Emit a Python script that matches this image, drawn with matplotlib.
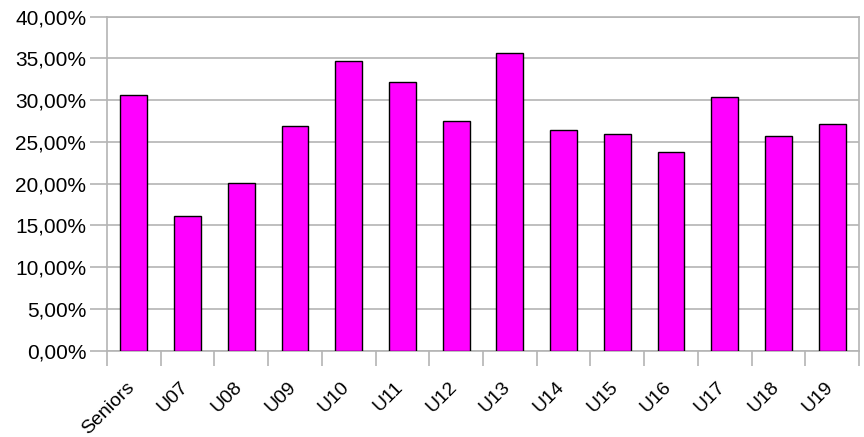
import matplotlib.pyplot as plt
import matplotlib.transforms as mtransforms
from matplotlib.ticker import FuncFormatter, MultipleLocator

categories = ['Seniors', 'U07', 'U08', 'U09', 'U10', 'U11', 'U12',
              'U13', 'U14', 'U15', 'U16', 'U17', 'U18', 'U19']
values = [30.6, 16.1, 20.1, 26.9, 34.7, 32.2, 27.5,
          35.6, 26.4, 25.95, 23.8, 30.4, 25.75, 27.1]

plt.rcParams['font.family'] = ['Liberation Sans', 'DejaVu Sans']

fig = plt.figure(figsize=(8.64, 4.37), dpi=100)
ax = fig.add_axes([107 / 864, 1 - 350.7 / 437, 752 / 864, 334 / 437])

x = range(len(categories))
ax.bar(x, values, width=0.5, color='#ff00ff', edgecolor='black', linewidth=1, zorder=3)

ax.set_xlim(-0.5, len(categories) - 0.5)
ax.set_ylim(0, 40)
ax.yaxis.set_major_locator(MultipleLocator(5))
ax.yaxis.set_major_formatter(FuncFormatter(lambda v, p: f'{v:.2f}%'.replace('.', ',')))
ax.yaxis.grid(True, color='#b4b4b4', linewidth=1.2, zorder=0)

# category boundary ticks
ax.set_xticks([i - 0.5 for i in range(len(categories) + 1)], minor=False)
ax.set_xticklabels([])
ax.set_xticks(list(x), minor=True)
ax.set_xticklabels(categories, minor=True, rotation=45, ha='right',
                   rotation_mode='anchor', fontsize=14)
ax.tick_params(axis='x', which='major', length=11, color='#b4b4b4', width=1.2)
ax.tick_params(axis='x', which='minor', length=0, pad=20)
ax.tick_params(axis='y', length=12, color='#b4b4b4', width=1.2, labelsize=15, pad=3)

# nudge rotated labels left so their ends sit over the category centre
offset = mtransforms.ScaledTranslation(-8 / 100, 0, fig.dpi_scale_trans)
for lbl in ax.get_xticklabels(minor=True):
    lbl.set_transform(lbl.get_transform() + offset)

for s in ['left', 'right', 'bottom', 'top']:
    ax.spines[s].set_color('#b4b4b4')
    ax.spines[s].set_linewidth(1.2)

plt.savefig('out.png', dpi=100)
